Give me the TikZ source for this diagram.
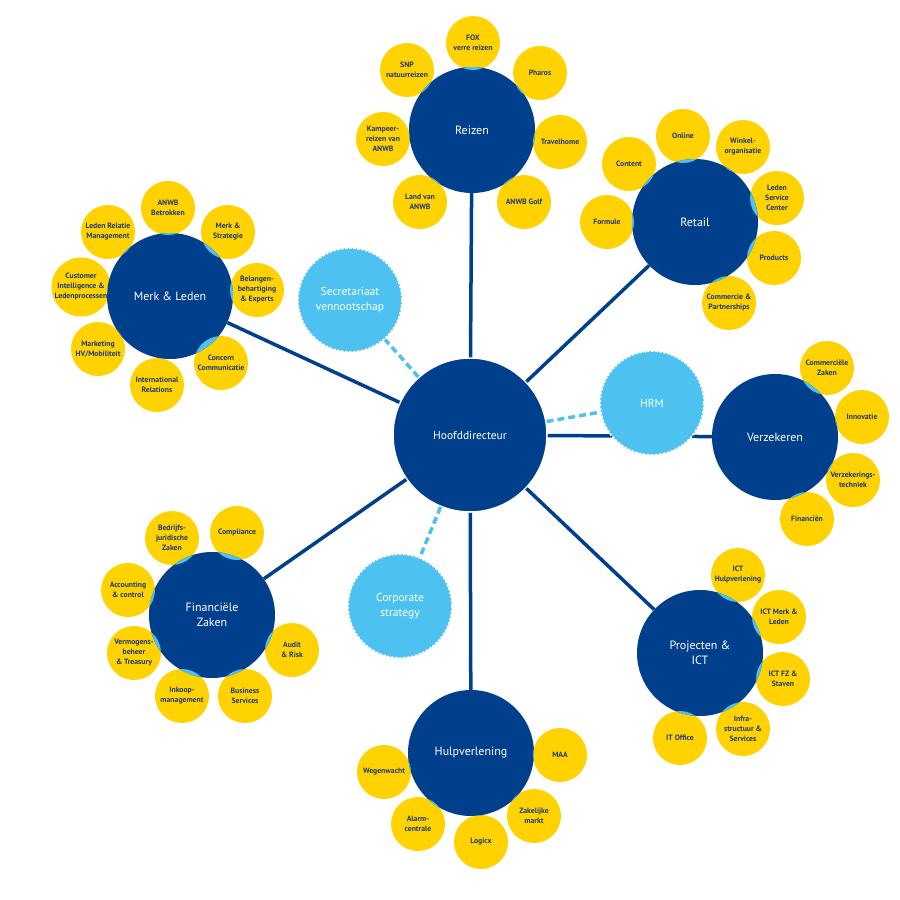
\documentclass[tikz,border=0pt]{standalone}
\usepackage{fontspec}
\setmainfont{PT Sans}
\usepackage{tikz}

\definecolor{anwbblue}{HTML}{003F8C}
\definecolor{anwbyellow}{HTML}{FFD200}
\definecolor{anwblight}{HTML}{4DC2F0}
\definecolor{labelblue}{HTML}{1E3A78}

\begin{document}
\begin{tikzpicture}[x=1pt, y=-1pt,
  hub/.style={circle, fill=anwbblue, minimum size=126pt, inner sep=0pt,
    align=center, text=white, font=\fontsize{12}{14.5}\selectfont},
  sat/.style={circle, fill=anwbyellow, minimum size=54pt, inner sep=0pt,
    align=center, text=labelblue, font=\bfseries\fontsize{7.7}{10}\selectfont},
  staff/.style={circle, fill=anwblight, draw=white, line width=1.8pt,
    dash pattern=on 2.5pt off 1.5pt, minimum size=104pt, inner sep=0pt,
    align=center, text=white, font=\fontsize{11.5}{14.5}\selectfont},
  link/.style={anwbblue, line width=3.5pt},
  stafflink/.style={anwblight, line width=3.5pt, dash pattern=on 7pt off 4pt},
  lens/.style={fill=anwblight}]
\fill[white] (0,0) rectangle (900,900);
\useasboundingbox (0,0) rectangle (900,900);

% Reizen
\node [sat] (fox) at (473,43) {FOX\\verre reizen};
\node [sat] (snp) at (407,70) {SNP\\natuurreizen};
\node [sat] (pharos) at (540,73) {Pharos};
\node [sat] (kampeer) at (383,139) {Kampeer-\\reizen van\\ANWB};
\node [sat] (travel) at (560,142) {Travelhome};
\node [sat] (land) at (420,202) {Land van\\ANWB};
\node [sat] (golf) at (524,202) {ANWB Golf};
% Retail
\node [sat] (online) at (683,136) {Online};
\node [sat] (winkel) at (743,147) {Winkel-\\organisatie};
\node [sat] (content) at (629,164) {Content};
\node [sat] (lsc) at (777,198) {Leden\\Service\\Center};
\node [sat] (formule) at (607,222) {Formule};
\node [sat] (products) at (774,258) {Products};
\node [sat] (commercie) at (729,303) {Commercie \&\\Partnerships};
% Merk & Leden
\node [sat] (betrokken) at (168,208) {ANWB\\Betrokken};
\node [sat] (lrm) at (108,232) {Leden Relatie\\Management};
\node [sat] (strategie) at (228,232) {Merk \&\\Strategie};
\node [sat] (customer) at (81,287) {Customer\\Intelligence \&\\Ledenprocessen};
\node [sat] (belangen) at (257,290) {Belangen-\\behartiging\\\& Experts};
\node [sat] (marketing) at (98,349) {Marketing\\HV/Mobiliteit};
\node [sat] (concern) at (221,363) {Concern\\Communicatie};
\node [sat] (intl) at (157,385) {International\\Relations};
% Verzekeren
\node [sat] (commzaken) at (827,368) {Commerciële\\Zaken};
\node [sat] (innovatie) at (862,417) {Innovatie};
\node [sat] (vztechniek) at (853,480) {Verzekerings-\\techniek};
\node [sat] (financien) at (807,519) {Financiën};
% Financiele Zaken
\node [sat] (bedrijfs) at (172,538) {Bedrijfs-\\juridische\\Zaken};
\node [sat] (compliance) at (237,533) {Compliance};
\node [sat] (accounting) at (128,590) {Accounting\\\& control};
\node [sat] (vermogens) at (134,653) {Vermogens-\\beheer\\\& Treasury};
\node [sat] (audit) at (292,650) {Audit\\\& Risk};
\node [sat] (inkoop) at (182,696) {Inkoop-\\management};
\node [sat] (business) at (245,696) {Business\\Services};
% Projecten & ICT
\node [sat] (icthulp) at (738,575) {ICT\\Hulpverlening};
\node [sat] (ictmerk) at (779,617) {ICT Merk \&\\Leden};
\node [sat] (ictfz) at (783,679) {ICT FZ \&\\Staven};
\node [sat] (infra) at (743,729) {Infra-\\structuur \&\\Services};
\node [sat] (itoffice) at (680,738) {IT Office};
% Hulpverlening
\node [sat] (maa) at (560,755) {MAA};
\node [sat] (wegenwacht) at (384,772) {Wegenwacht};
\node [sat] (zakelijk) at (534,816) {Zakelijke\\markt};
\node [sat] (alarm) at (418,824) {Alarm-\\centrale};
\node [sat] (logicx) at (481,842) {Logicx};

% hubs
\node [hub] (reizen) at (472,130) {Reizen};
\node [hub] (retail) at (695,222) {Retail};
\node [hub] (merk) at (170,296) {Merk \& Leden};
\node [hub] (verzekeren) at (775,437) {Verzekeren};
\node [hub] (financieel) at (212,615) {Financiële\\Zaken};
\node [hub] (projecten) at (700,653) {Projecten \&\\ICT};
\node [hub] (hulp) at (471,753) {Hulpverlening};
\node [hub, minimum size=154pt, draw=white, line width=1.5pt,
  font=\fontsize{11.5}{14}\selectfont] (hoofd) at (470,435) {Hoofddirecteur};

% overlaps
\begin{scope}
  \clip (reizen.center) circle (63);
  \foreach \s in {fox,snp,pharos,kampeer,travel,land,golf}
    \fill[lens] (\s.center) circle (27);
\end{scope}
\begin{scope}
  \clip (retail.center) circle (63);
  \foreach \s in {online,winkel,content,lsc,formule,products,commercie}
    \fill[lens] (\s.center) circle (27);
\end{scope}
\begin{scope}
  \clip (merk.center) circle (63);
  \foreach \s in {betrokken,lrm,strategie,customer,belangen,marketing,concern,intl}
    \fill[lens] (\s.center) circle (27);
\end{scope}
\begin{scope}
  \clip (verzekeren.center) circle (63);
  \foreach \s in {commzaken,innovatie,vztechniek,financien}
    \fill[lens] (\s.center) circle (27);
\end{scope}
\begin{scope}
  \clip (financieel.center) circle (63);
  \foreach \s in {bedrijfs,compliance,accounting,vermogens,audit,inkoop,business}
    \fill[lens] (\s.center) circle (27);
\end{scope}
\begin{scope}
  \clip (projecten.center) circle (63);
  \foreach \s in {icthulp,ictmerk,ictfz,infra,itoffice}
    \fill[lens] (\s.center) circle (27);
\end{scope}
\begin{scope}
  \clip (hulp.center) circle (63);
  \foreach \s in {maa,wegenwacht,zakelijk,alarm,logicx}
    \fill[lens] (\s.center) circle (27);
\end{scope}

\path [link]
(hoofd) edge (reizen)
edge (retail)
edge (merk)
edge (verzekeren)
edge (financieel)
edge (projecten)
edge (hulp);

% staff
\node [staff] (secr) at (350,300) {Secretariaat\\vennootschap};
\node [staff] (hrm) at (652,403) {HRM};
\node [staff] (corp) at (400,606) {Corporate\\strategy};
\path [stafflink]
(hoofd) edge (secr)
edge (hrm)
edge (corp);
\end{tikzpicture}
\end{document}
